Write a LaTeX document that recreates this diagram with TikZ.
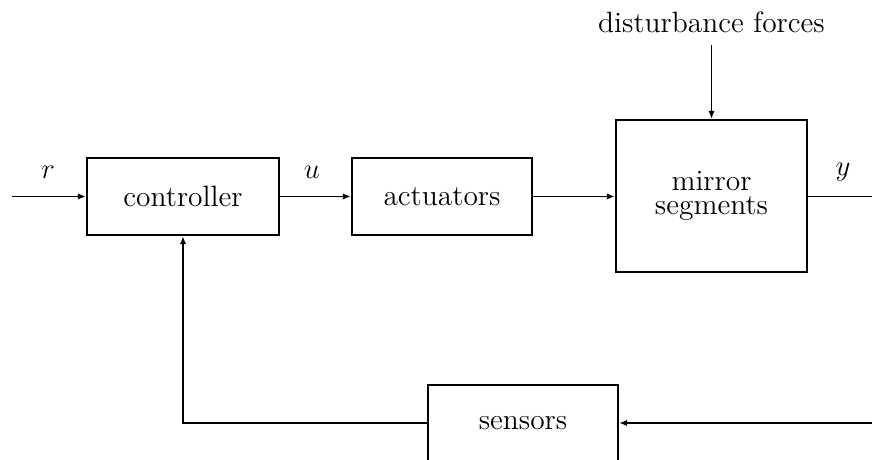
\documentclass[tikz,border=0pt]{standalone}
\usetikzlibrary{arrows.meta}
\begin{document}
\begin{tikzpicture}[x=0.5pt,y=-0.5pt,
  font=\fontsize{14.7}{17}\selectfont,
  blk/.style={draw,line width=1.15pt,inner sep=0pt},
  conn/.style={line width=0.95pt,-{Latex[length=4pt,width=3.2pt]}},
  plain/.style={line width=0.95pt},
  lbl/.style={inner sep=0pt}]
\useasboundingbox (0,0) rectangle (872,460);
\clip (0,0) rectangle (872,460);
\node[blk,minimum width=96pt,minimum height=38.5pt] (ctrl) at (183,196.5) {controller};
\node[blk,minimum width=90pt,minimum height=38.5pt] (act) at (442,196.5) {actuators};
\node[blk,minimum width=95.5pt,minimum height=76pt,align=center,font=\fontsize{14.7}{12.2}\selectfont] (mir) at (711.5,196) {mirror\\segments};
\node[blk,minimum width=95pt,minimum height=38pt] (sen) at (523,423) {sensors};
\node[lbl] (dist) at (711.5,22) {disturbance forces};
\coordinate (rin) at (12,196.5);
\coordinate (yout) at (872,196.5);
\coordinate (sin) at (872,423);
\coordinate (fb) at (183,423);
\coordinate (dtop) at (711.5,45);
\node[lbl] (r) at (48,172) {$r$};
\node[lbl] (u) at (312,172) {$u$};
\node[lbl] (y) at (843,172) {$y$};
\draw[conn] (rin) -- (ctrl.west);
\draw[conn] (ctrl.east) -- (act.west);
\draw[conn] (act.east) -- (act.east -| mir.west);
\draw[conn] (dtop) -- (mir.north);
\draw[plain] (mir.east |- yout) -- (yout);
\draw[conn] (sin) -- (sen.east);
\draw[conn] (sen.west) -- (fb) -- (ctrl.south);
\end{tikzpicture}
\end{document}
